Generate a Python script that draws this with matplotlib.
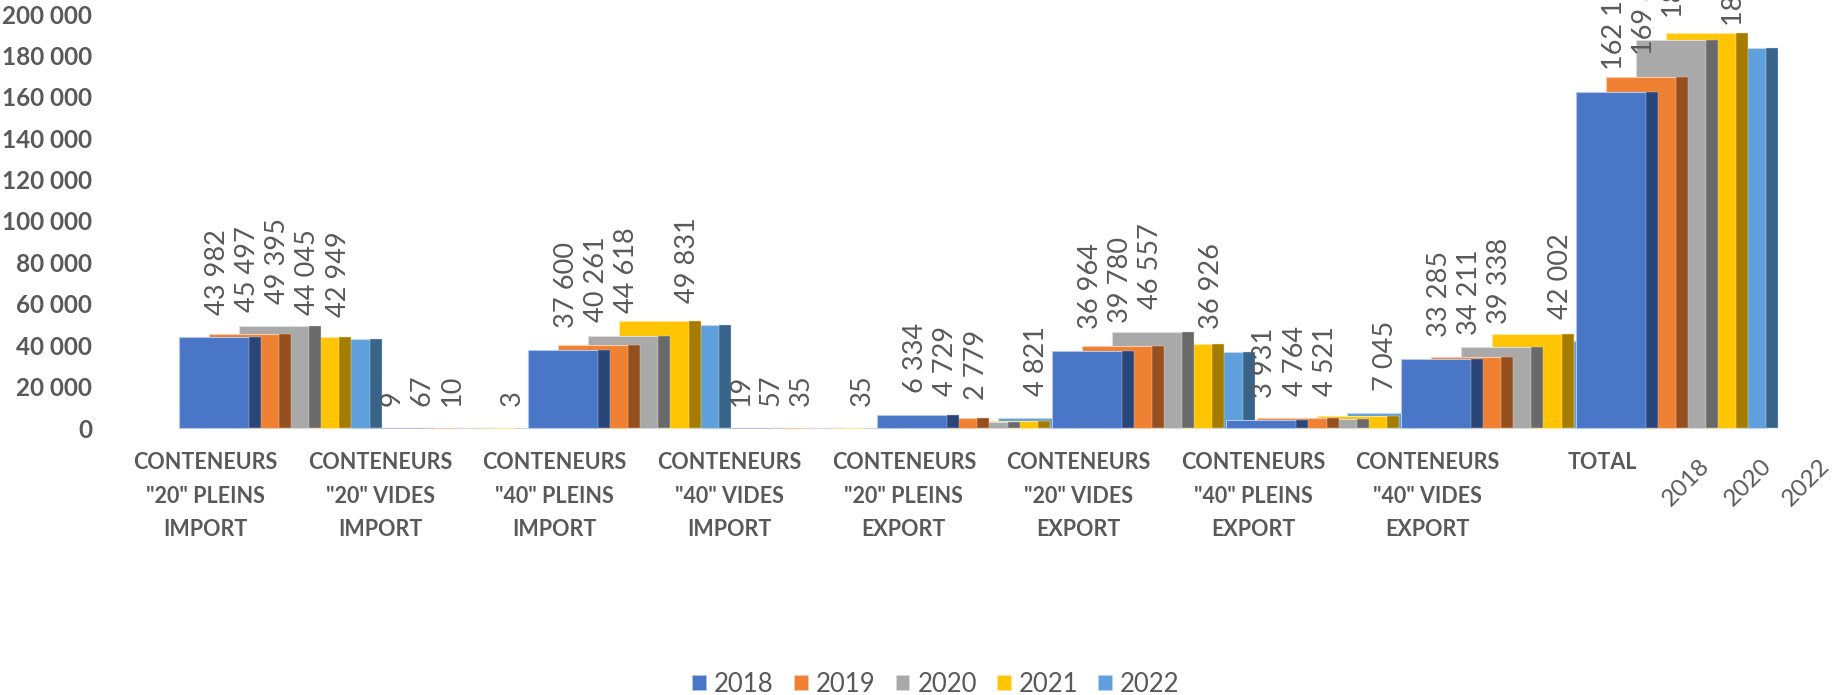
#!/usr/bin/env python3
"""Conteneurs par type, 2018-2022"""

import matplotlib

matplotlib.use("Agg")

import matplotlib.pyplot as plt
from matplotlib.patches import Patch

plt.rcParams["font.family"] = ["Lato", "DejaVu Sans"]

YEARS = ["2018", "2019", "2020", "2021", "2022"]
CATEGORIES = [
    'CONTENEURS\n"20" PLEINS\nIMPORT',
    'CONTENEURS\n"20" VIDES\nIMPORT',
    'CONTENEURS\n"40" PLEINS\nIMPORT',
    'CONTENEURS\n"40" VIDES\nIMPORT',
    'CONTENEURS\n"20" PLEINS\nEXPORT',
    'CONTENEURS\n"20" VIDES\nEXPORT',
    'CONTENEURS\n"40" PLEINS\nEXPORT',
    'CONTENEURS\n"40" VIDES\nEXPORT',
    "TOTAL",
]
Y_TICKS = list(range(0, 200001, 20000))
DEPTH_LABELS = ["2018", "2020", "2022"]

V2018 = [43982, 9, 37600, 19, 6334, 36964, 3931, 33285, 162124]
V2019 = [45497, 67, 40261, 57, 4729, 39780, 4764, 34211, 169366]
V2020 = [49395, 10, 44618, 35, 2779, 46557, 4521, 39338, 187253]
V2021 = [44045, 20, 51500, 30, 3500, 40500, 6000, 45500, 191000]
V2022 = [42949, 3, 49831, 35, 4821, 36926, 7045, 42002, 183612]
VALUES = [V2018, V2019, V2020, V2021, V2022]

# 2021 : seule la premiere barre porte une etiquette
LABELLED_2021 = [0]

FRONT = ["#4A76C8", "#F08132", "#A9A9A9", "#FFC502", "#5F9FDB"]
SIDE = ["#2A4678", "#964F1E", "#696969", "#A67C00", "#39648A"]
EDGE = ["#B4C7E7", "#F8CBAD", "#DBDBDB", "#FFE699", "#BDD7EE"]
TEXT_COLOR = "#595959"

W, H = 1832, 695
GROUP_PX = 174.6
LEFT_PX, RIGHT_PX = 100, 1800
BASE_PX, TOP_PX = 428, 14
TICK0_PX = 205.5
START_PX = 178.7
STEP_PX = 30.2
FRONT_PX = 70
SIDE_PX = 12


def thousands(v):
    return f"{v:,}".replace(",", " ")


def main():
    fig = plt.figure(figsize=(W / 100, H / 100), dpi=100)
    ax = fig.add_axes([
        LEFT_PX / W,
        (H - BASE_PX) / H,
        (RIGHT_PX - LEFT_PX) / W,
        (BASE_PX - TOP_PX) / H,
    ])
    ax.set_xlim((LEFT_PX - TICK0_PX) / GROUP_PX, (RIGHT_PX - TICK0_PX) / GROUP_PX)
    ax.set_ylim(0, 200000)

    xs = list(range(len(CATEGORIES)))
    start = (START_PX - TICK0_PX) / GROUP_PX
    step = STEP_PX / GROUP_PX
    front_w = FRONT_PX / GROUP_PX
    side_w = SIDE_PX / GROUP_PX

    # 2018 devant, 2022 derriere
    for j, vals in enumerate(VALUES):
        lefts = [x + start + j * step for x in xs]
        z = 10 - j
        ax.bar(lefts, vals, width=front_w, align="edge", color=FRONT[j],
               edgecolor=EDGE[j], linewidth=0.8, zorder=z, clip_on=False)
        ax.bar([l + front_w for l in lefts], vals, width=side_w, align="edge",
               color=SIDE[j], edgecolor=EDGE[j], linewidth=0.3, zorder=z, clip_on=False)

        for i, v in enumerate(vals):
            if j == 3 and i not in LABELLED_2021:
                continue
            ax.annotate(thousands(v), (lefts[i] + 38.5 / GROUP_PX, v),
                        xytext=(0, 16), textcoords="offset points",
                        rotation=90, ha="center", va="bottom",
                        fontsize=19.5, color=TEXT_COLOR, zorder=20)

    ax.set_xticks(xs)
    ax.set_xticklabels(CATEGORIES, fontsize=15.5, fontweight="bold", color=TEXT_COLOR,
                       linespacing=1.74, va="top")
    ax.set_yticks(Y_TICKS)
    ax.set_yticklabels([thousands(t) for t in Y_TICKS], fontsize=17.5, fontweight="bold",
                       color=TEXT_COLOR)
    ax.tick_params(axis="x", length=0, pad=17.5)
    ax.tick_params(axis="y", length=0, pad=5.5)
    for s in ax.spines.values():
        s.set_visible(False)
    ax.patch.set_alpha(0)

    for lab, px in zip(DEPTH_LABELS, [1686, 1748, 1806]):
        fig.text(px / W, 1 - 482 / H, lab, rotation=45, ha="center", va="center",
                 fontsize=17.5, color=TEXT_COLOR)

    handles = [Patch(facecolor=c, edgecolor=e, linewidth=0.5) for c, e in zip(FRONT, EDGE)]
    fig.legend(handles, YEARS, loc="center", bbox_to_anchor=(936 / W, 1 - 684 / H), ncol=5,
               frameon=False, fontsize=18.5, labelcolor=TEXT_COLOR, handlelength=0.54,
               handleheight=0.54, handletextpad=0.31, columnspacing=0.78,
               borderpad=0, borderaxespad=0)

    fig.savefig("out.png", dpi=100)
    plt.close(fig)


if __name__ == "__main__":
    main()
